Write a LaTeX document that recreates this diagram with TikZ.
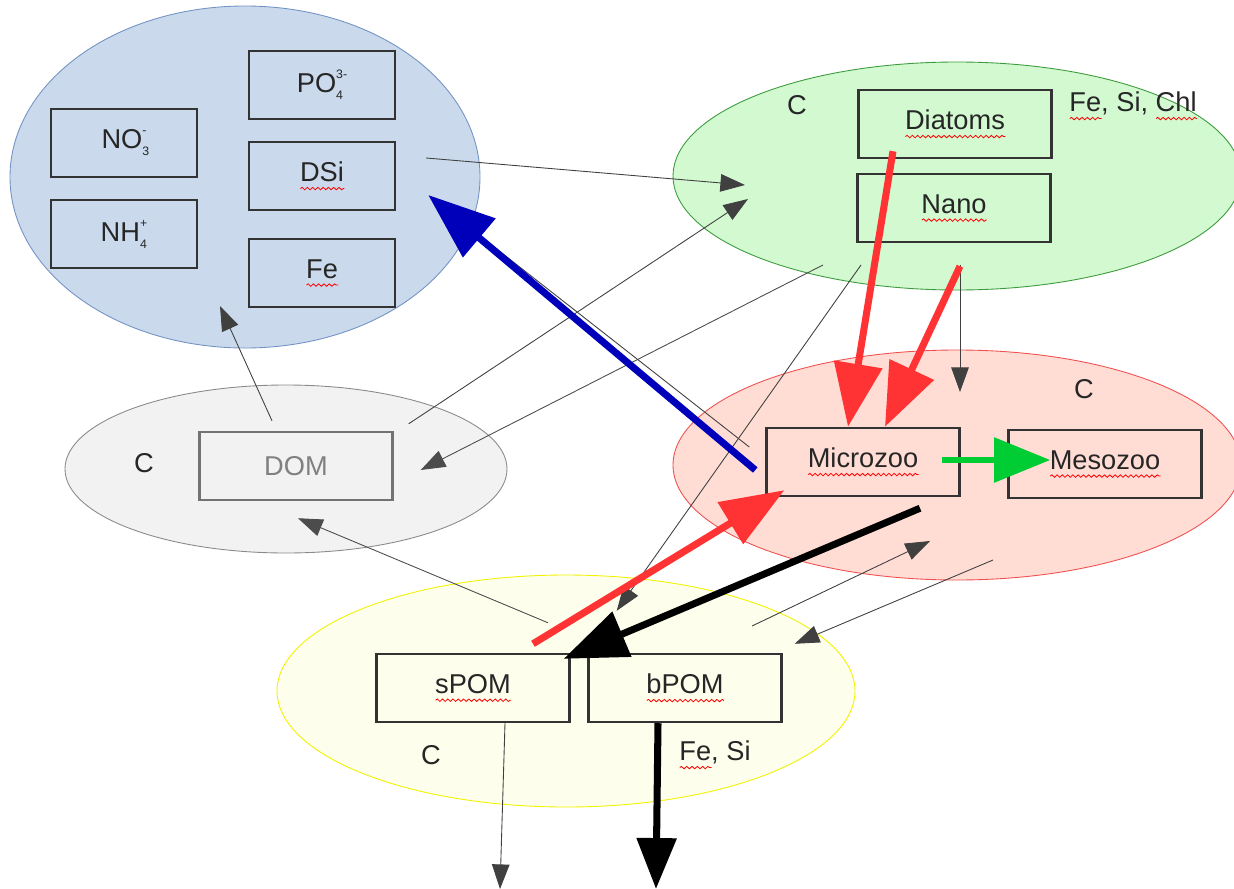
\documentclass[tikz,border=0pt]{standalone}
\usepackage{fontspec}
\setmainfont{Liberation Sans}
\usepackage{xcolor}
\usepackage{tikz}
\usetikzlibrary{arrows.meta}
\usetikzlibrary{calc}
\usetikzlibrary{decorations.pathmorphing}

\definecolor{nutfill}{HTML}{CADAEC}
\definecolor{nutline}{HTML}{7393C4}
\definecolor{phyfill}{HTML}{D2F9D0}
\definecolor{phyline}{HTML}{3C9B3C}
\definecolor{zoofill}{HTML}{FFDDD5}
\definecolor{zooline}{HTML}{F05050}
\definecolor{domfill}{HTML}{F2F2F2}
\definecolor{domline}{HTML}{8A8A8A}
\definecolor{pomfill}{HTML}{FDFFEC}
\definecolor{pomline}{HTML}{F2F200}
\definecolor{grazred}{HTML}{FF3333}
\definecolor{remblue}{HTML}{0000BB}
\definecolor{predgreen}{HTML}{00CC33}

\tikzset{spellline/.style={draw=red,line width=0.45pt,decorate,
  decoration={snake,amplitude=0.7pt,segment length=3pt}}}
\newlength\spellwd
\newsavebox\spellbox
\newcommand{\spell}[1]{\sbox\spellbox{#1}\setlength\spellwd{\wd\spellbox}%
  \rlap{\tikz[baseline=0pt]\path[spellline] (0pt,-4pt) -- (\spellwd,-4pt);}\usebox\spellbox}
\newcommand{\chemion}[2]{\rlap{\raisebox{-4pt}{\fontsize{7}{7}\selectfont #1}}\raisebox{8pt}{\fontsize{7}{7}\selectfont #2}}

\begin{document}
\begin{tikzpicture}
[x=0.02cm,y=-0.02cm,
every node/.style={font=\fontsize{15.5}{18}\selectfont,text=black!85},
nut/.style={draw=nutline,fill=nutfill,line width=0.5pt},
phy/.style={draw=phyline,fill=phyfill,line width=0.5pt},
zoo/.style={draw=zooline,fill=zoofill,line width=0.5pt},
dompool/.style={draw=domline,fill=domfill,line width=0.5pt},
pompool/.style={draw=pomline,fill=pomfill,line width=0.5pt},
box/.style={rectangle,draw=black!80,line width=1.4pt,minimum width=3.86cm,minimum height=1.36cm,inner sep=0pt},
nbox/.style={box,minimum width=2.92cm},
flux/.style={draw=black!75,line width=0.5pt,-{Triangle[length=14pt,width=10pt]}},
bigflux/.style={line width=4pt,-{Triangle[length=36pt,width=27pt]}}]
\useasboundingbox (0,0) rectangle (1234,889);

\coordinate (nutr)  at (245,177);
\coordinate (phyto) at (957,176);
\coordinate (zoop)  at (957,465);
\coordinate (domp)  at (286,469);
\coordinate (pomp)  at (566,691);
\coordinate (sinks) at (500,889);
\coordinate (sinkb) at (656,889);

\draw [nut]      (nutr)  ellipse [x radius=235, y radius=171];
\draw [phy]      (phyto) ellipse [x radius=284, y radius=114];
\draw [zoo]      (zoop)  ellipse [x radius=284, y radius=115];
\draw [dompool]  (domp)  ellipse [x radius=221, y radius=84];
\draw [pompool]  (pomp)  ellipse [x radius=289, y radius=116];

\node at (322,85)   [nbox] (po4)   {PO\chemion{4}{3-}};
\node at (322,176)  [nbox] (dsi)   {\spell{DSi}};
\node at (322,273)  [nbox] (fe)    {\spell{Fe}};
\node at (124,143)  [nbox] (no3)   {NO\chemion{3}{-}};
\node at (124,234)  [nbox] (nh4)   {NH\chemion{4}{+}};
\node at (955,124)  [box]  (diat)  {\spell{Diatoms}};
\node at (954,208)  [box]  (nano)  {\spell{Nano}};
\node at (863,462)  [box]  (micro) {\spell{Microzoo}};
\node at (1105,464) [box]  (meso)  {\spell{Mesozoo}};
\node at (296,466)  [box,draw=black!55,text=black!50] (dom) {DOM};
\node at (473,688)  [box]  (spom)  {\spell{sPOM}};
\node at (685,688)  [box]  (bpom)  {\spell{bPOM}};

\node at (797,105)  (cphy)    {C};
\node at (1133,106) (elphy)   {\spell{Fe}, Si, \spell{Chl}};
\node at (1084,389) (czoo)    {C};
\node at (144,463)  (cdom)    {C};
\node at (431,755)  (cpom)    {C};
\node at (715,755)  (elpom)   {\spell{Fe}, Si};

\draw [flux] ($(dsi.east)+(30,-18)$)        -- ($(phyto)+(-212,9)$);
\draw [flux] ($(dom.north east)+(15,-7)$)   -- ($(phyto)+(-209,23)$);
\draw [flux,draw=black!70] ($(phyto)+(-134,89)$) -- ($(dom.east)+(27,4)$);
\draw [flux] ($(phyto)+(-96,89)$)           -- ($(spom.north east)+(46,-42)$);
\draw [flux] ($(phyto)+(3,89)$)             -- ($(zoop)+(3,-73)$);
\draw [flux] ($(micro.west)+(-16,-15)$)     -- ($(dsi.south east)+(37,-12)$);
\draw [flux] ($(pomp)+(186,-65)$)           -- ($(zoop)+(-27,76)$);
\draw [flux] ($(zoop)+(36,95)$)             -- ($(bpom.north east)+(12,-9)$);
\draw [flux,draw=black!70] ($(spom.north)+(75,-30)$) -- ($(dom.south)+(2,17)$);
\draw [flux] ($(dom.north)+(-24,-10)$)      -- ($(nutr)+(-25,129)$);
\draw [flux] ($(spom.south)+(32,0)$)        -- (sinks);

\draw [bigflux,draw=grazred]   ($(diat.south)+(-62,-8)$)  -- ($(micro.north)+(-15,0)$);
\draw [bigflux,draw=grazred]   ($(nano.south)+(6,23)$)    -- ($(micro.north)+(22,0)$);
\draw [bigflux,draw=remblue,-{Triangle[length=38pt,width=28pt]}] ($(micro.west)+(-10,8)$) -- ($(dsi.east)+(32,19)$);
\draw [bigflux,draw=predgreen,line width=3.5pt,-{Triangle[length=32pt,width=25pt]}] ($(micro.east)+(-19,-2)$) -- ($(meso.west)+(43,-4)$);
\draw [bigflux,draw=grazred]   ($(spom.north)+(60,-9)$)   -- ($(micro.south west)+(19,-7)$);
\draw [bigflux,draw=black]     ($(micro.south)+(57,11)$)  -- ($(spom.north east)+(-7,6)$);
\draw [bigflux,draw=black,-{Triangle[length=29pt,width=22pt]}] ($(bpom.south)+(-27,0)$) -- (sinkb);
\end{tikzpicture}
\end{document}
